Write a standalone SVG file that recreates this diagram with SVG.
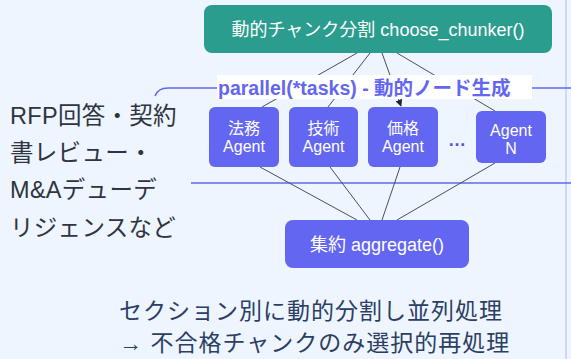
<svg xmlns="http://www.w3.org/2000/svg" width="571" height="359" viewBox="0 0 571 359">
<defs>
<style>
.bg{fill:#eef5fe}
.edge{stroke:#4a4f5a;stroke-width:1;fill:none}
.guide{stroke:#6366f1;stroke-width:1.6;fill:none}
.agent{fill:#6366f1}
.t{font-family:"Liberation Sans","Noto Sans CJK JP",sans-serif}
.wt{fill:#ffffff;text-anchor:middle}
.side{fill:#2e3440;font-size:23.5px;letter-spacing:0.3px}
.note{fill:#2c3e63;font-size:23px;letter-spacing:1px}
.cjk{font-family:"Noto Sans CJK JP",sans-serif}
</style>
<marker id="ah" viewBox="0 0 10 10" refX="9" refY="5" markerWidth="7" markerHeight="7" orient="auto-start-reverse">
<path d="M0,0 L10,5 L0,10 z" fill="#1f2430"/>
</marker>
</defs>
<rect class="bg" x="0" y="0" width="571" height="359"/>
<line x1="566" y1="0" x2="566" y2="359" stroke="#c9daf7" stroke-width="2"/>
<g id="guides">
<path class="guide" d="M155,96 Q158,88 168,88 L571,88"/>
<line class="guide" x1="191" y1="183" x2="571" y2="183" stroke="#6f73f0"/>
</g>
<g id="connectors">
<line class="edge" x1="357" y1="53" x2="262" y2="107"/>
<line class="edge" x1="370" y1="53" x2="328" y2="107"/>
<line class="edge" x1="382" y1="53" x2="401" y2="106" marker-end="url(#ah)"/>
<line class="edge" x1="397" y1="53" x2="495" y2="111"/>
<line class="edge" x1="260" y1="167" x2="357" y2="220"/>
<line class="edge" x1="330" y1="167" x2="370" y2="220"/>
<line class="edge" x1="400" y1="167" x2="382" y2="220"/>
<line class="edge" x1="495" y1="163" x2="397" y2="220"/>
</g>
<g id="label-parallel">
<rect x="217" y="75" width="315" height="24" fill="#ffffff"/>
<text class="t" x="218" y="95" font-size="19.5" font-weight="bold" fill="#6366f1">parallel(*tasks) - 動的ノード生成</text>
</g>
<g id="node-chunker">
<rect x="204" y="5" width="348" height="48" rx="8" fill="#2a9d8f"/>
<text class="t wt" x="378" y="36" font-size="18">動的チャンク分割 choose_chunker()</text>
</g>
<g id="node-legal">
<rect class="agent" x="209" y="107" width="70" height="60" rx="6"/>
<text class="t wt" x="244" y="134" font-size="16">法務</text>
<text class="t wt" x="244" y="152" font-size="16">Agent</text>
</g>
<g id="node-tech">
<rect class="agent" x="289" y="107" width="69" height="60" rx="6"/>
<text class="t wt" x="323.5" y="134" font-size="16">技術</text>
<text class="t wt" x="323.5" y="152" font-size="16">Agent</text>
</g>
<g id="node-price">
<rect class="agent" x="368" y="107" width="70" height="60" rx="6"/>
<text class="t wt" x="403" y="134" font-size="16">価格</text>
<text class="t wt" x="403" y="152" font-size="16">Agent</text>
</g>
<g id="dots">
<text class="t" x="457" y="146" font-size="18" font-weight="bold" fill="#5458d6" text-anchor="middle">…</text>
</g>
<g id="node-agentN">
<rect class="agent" x="476" y="111" width="70" height="52" rx="6"/>
<text class="t wt" x="511" y="136" font-size="16">Agent</text>
<text class="t wt" x="511" y="154" font-size="16">N</text>
</g>
<g id="node-aggregate">
<rect class="agent" x="285" y="220" width="184" height="48" rx="8"/>
<text class="t wt" x="377" y="251" font-size="18">集約 aggregate()</text>
</g>
<g id="side-text">
<text class="t side" x="10" y="124">RFP回答・契約</text>
<text class="t side" x="10" y="161">書レビュー・</text>
<text class="t side" x="10" y="198">M&amp;Aデューデ</text>
<text class="t side" x="10" y="236">リジェンスなど</text>
</g>
<g id="note-text">
<text class="t note" x="119" y="319">セクション別に動的分割し並列処理</text>
<text class="t note" x="119" y="351">→ 不合格チャンクのみ選択的再処理</text>
</g>
</svg>
